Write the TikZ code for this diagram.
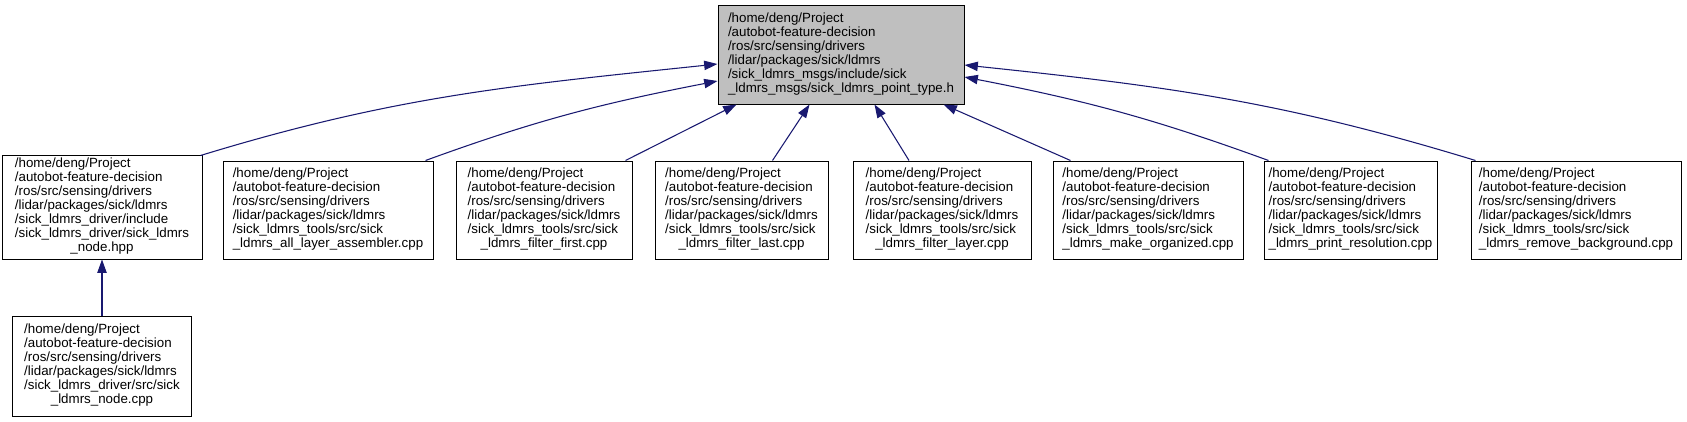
\documentclass[tikz,border=0pt]{standalone}
\usepackage{fontspec}
\setmainfont{Liberation Sans}
\usetikzlibrary{arrows.meta, calc}

\definecolor{depblue}{HTML}{191970}
\definecolor{focusgray}{HTML}{BFBFBF}

\newcommand{\ldmrsroot}{/home/deng/Project\\/autobot-feature-decision\\/ros/src/sensing/drivers\\/lidar/packages/sick/ldmrs}
\newcommand{\pathlabel}[2]{\begin{tabular}{@{}l@{}}\ldmrsroot\\#1\\\multicolumn{1}{@{}c@{}}{#2}\end{tabular}}

\begin{document}
\begin{tikzpicture}[x=0.75pt, y=-0.75pt,
    srcfile/.style={draw=black, line width=0.75pt, inner sep=0pt, minimum height=73.5pt,
        font=\fontsize{10}{10.5}\selectfont},
    focusfile/.style={srcfile, fill=focusgray},
    uses/.style={draw=depblue, line width=0.8pt, -{Triangle[length=10pt, width=7pt]}}]
    \useasboundingbox (0, 0) rectangle (1687, 421);

    \node[focusfile, minimum width=184.5pt, minimum height=74.25pt] at (841, 54.5) (focus)
        {\pathlabel{/sick\_ldmrs\_msgs/include/sick}{\_ldmrs\_msgs/sick\_ldmrs\_point\_type.h}};

    \node[srcfile, minimum width=150pt, minimum height=78pt] at (102, 207) (driverhpp)
        {\pathlabel{/sick\_ldmrs\_driver/include\\/sick\_ldmrs\_driver/sick\_ldmrs}{\_node.hpp}};
    \node[srcfile, minimum width=134.25pt, minimum height=75pt] at (102, 366) (nodecpp)
        {\pathlabel{/sick\_ldmrs\_driver/src/sick}{\_ldmrs\_node.cpp}};
    \node[srcfile, minimum width=157.5pt] at (328, 210) (assembler)
        {\pathlabel{/sick\_ldmrs\_tools/src/sick}{\_ldmrs\_all\_layer\_assembler.cpp}};
    \node[srcfile, minimum width=132pt] at (544, 210) (filterfirst)
        {\pathlabel{/sick\_ldmrs\_tools/src/sick}{\_ldmrs\_filter\_first.cpp}};
    \node[srcfile, minimum width=129.75pt] at (741.5, 210) (filterlast)
        {\pathlabel{/sick\_ldmrs\_tools/src/sick}{\_ldmrs\_filter\_last.cpp}};
    \node[srcfile, minimum width=133.5pt] at (942, 210) (filterlayer)
        {\pathlabel{/sick\_ldmrs\_tools/src/sick}{\_ldmrs\_filter\_layer.cpp}};
    \node[srcfile, minimum width=142.5pt] at (1148, 210) (organized)
        {\pathlabel{/sick\_ldmrs\_tools/src/sick}{\_ldmrs\_make\_organized.cpp}};
    \node[srcfile, minimum width=129.75pt] at (1350.5, 210) (resolution)
        {\pathlabel{/sick\_ldmrs\_tools/src/sick}{\_ldmrs\_print\_resolution.cpp}};
    \node[srcfile, minimum width=157.5pt] at (1576, 210) (background)
        {\pathlabel{/sick\_ldmrs\_tools/src/sick}{\_ldmrs\_remove\_background.cpp}};

    \draw[uses] ($(driverhpp.north east)+(-2, 1)$) to[out=17, in=186] ($(focus.west)+(0, 9.5)$);
    \draw[uses] ($(assembler.north east)+(-8, 0)$) to[out=20, in=191] ($(focus.west)+(0, 26.5)$);
    \draw[uses] ($(filterfirst.north east)+(-7, 0)$) -- ($(focus.south west)+(19, 0)$);
    \draw[uses] ($(filterlast.north)+(31, 0)$) -- ($(focus.south west)+(92, 0)$);
    \draw[uses] ($(filterlayer.north)+(-33, 0)$) -- ($(focus.south west)+(157, 0)$);
    \draw[uses] ($(organized.north west)+(18, 0)$) -- ($(focus.south east)+(-21, 0)$);
    \draw[uses] ($(resolution.north west)+(5, 0)$) to[out=160, in=-11] ($(focus.east)+(0, 22.5)$);
    \draw[uses] ($(background.north west)+(5, 0)$) to[out=163, in=-6] ($(focus.east)+(0, 10.5)$);
    \draw[uses] (nodecpp) -- (driverhpp);
\end{tikzpicture}
\end{document}
